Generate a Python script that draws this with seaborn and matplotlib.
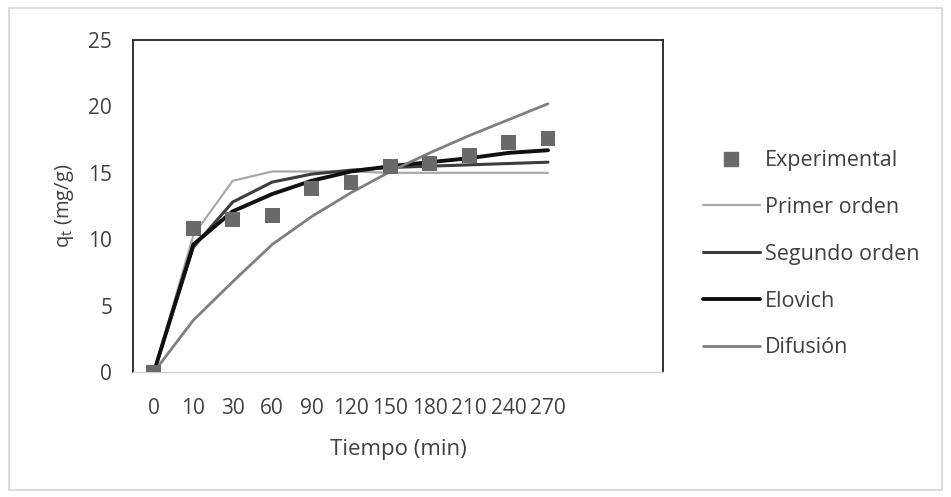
import numpy as np
import pandas as pd
import matplotlib
matplotlib.use("Agg")
import matplotlib.pyplot as plt
import seaborn as sns
from matplotlib.lines import Line2D
from matplotlib.patches import Rectangle

# datos
tiempo = ["0", "10", "30", "60", "90", "120", "150", "180", "210", "240", "270"]
experimental = [0.0, 10.8, 11.5, 11.8, 13.8, 14.3, 15.5, 15.7, 16.3, 17.3, 17.6]
primer_orden = [0.0, 10.3, 14.4, 15.1, 15.1, 15.1, 15.0, 15.0, 15.0, 15.0, 15.0]
segundo_orden = [0.0, 9.4, 12.8, 14.3, 14.9, 15.2, 15.4, 15.5, 15.6, 15.7, 15.8]
elovich = [0.0, 9.6, 12.1, 13.4, 14.4, 15.1, 15.5, 15.8, 16.1, 16.5, 16.7]
difusion = [0.0, 3.9, 6.8, 9.6, 11.7, 13.5, 15.1, 16.5, 17.8, 19.0, 20.2]

sns.set_theme(style="white")
plt.rcParams["font.family"] = ["Open Sans", "DejaVu Sans"]

pos = np.arange(len(tiempo))

fig = plt.figure(figsize=(9.51, 4.97), dpi=100)
ax = fig.add_axes([0.1399, 0.2515, 0.5573, 0.668])

# estilos de las series
series = [
    ("Primer orden", primer_orden, "#a9a9a9", 1.6),
    ("Segundo orden", segundo_orden, "#3c3c3c", 2.2),
    ("Elovich", elovich, "#101010", 2.8),
    ("Difusión", difusion, "#7f7f7f", 2.0),
]

for nombre, vals, color, lw in series:
    sns.lineplot(x=pos, y=vals, ax=ax, color=color, linewidth=lw, zorder=2)

sns.scatterplot(x=pos, y=experimental, ax=ax, marker="s", s=115, color="#6a6a6a",
                edgecolor="none", zorder=3)

ax.set_xlim(-0.53, 12.92)
ax.set_ylim(0, 25)
ax.set_xticks(pos)
ax.set_xticklabels(tiempo)
ax.set_yticks([0, 5, 10, 15, 20, 25])
ax.tick_params(axis="both", length=0, labelsize=15, colors="#404040")
ax.tick_params(axis="y", pad=15)
ax.tick_params(axis="x", pad=19)

for lado in ["left", "top", "right"]:
    ax.spines[lado].set_color("#222222")
    ax.spines[lado].set_linewidth(1.3)
ax.spines["bottom"].set_color("#d0d0d0")
ax.spines["bottom"].set_linewidth(1.0)

ax.set_xlabel("Tiempo (min)", fontsize=16, color="#404040", labelpad=14)
ax.set_ylabel("q$_\\mathregular{t}$ (mg/g)", fontsize=14.5, color="#404040", labelpad=9)

handles = [Line2D([], [], marker="s", linestyle="none", color="#6a6a6a",
                  markersize=10.5, label="Experimental")]
for nombre, vals, color, lw in series:
    handles.append(Line2D([], [], color=color, linewidth=lw, label=nombre))

leg = fig.legend(handles=handles, loc="upper left", bbox_to_anchor=(0.739, 0.698),
                 frameon=False, fontsize=15.5, handlelength=2.65, handletextpad=0.23,
                 labelspacing=1.2, borderpad=0, borderaxespad=0)
for t in leg.get_texts():
    t.set_color("#404040")

# marco exterior
fig.patches.append(Rectangle((0.009, 0.014), 0.982, 0.97, transform=fig.transFigure,
                             fill=False, edgecolor="#d4d4d4", linewidth=1.2))

fig.savefig("out.png", dpi=100)
